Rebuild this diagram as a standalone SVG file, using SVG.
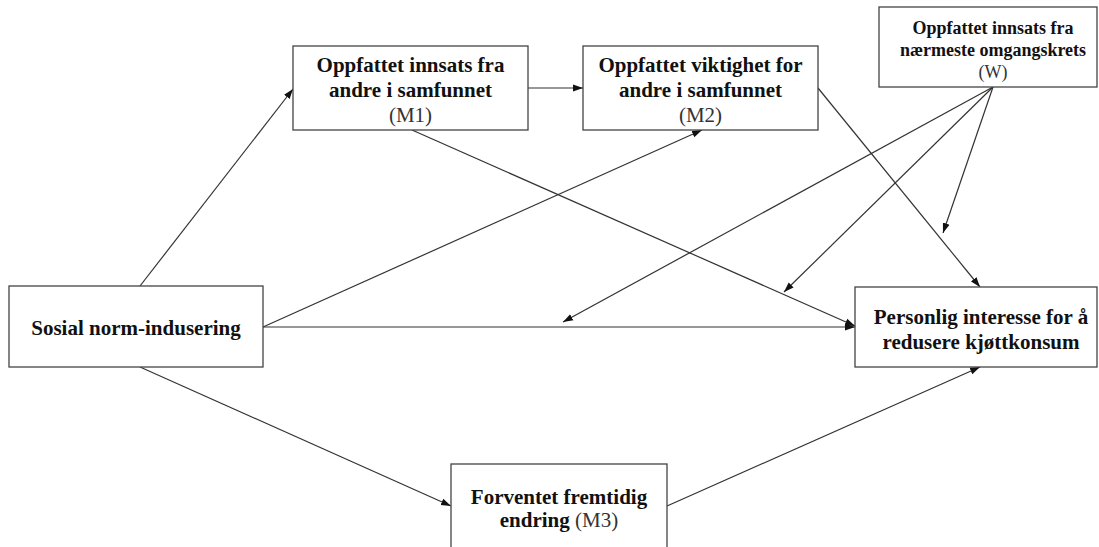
<svg xmlns="http://www.w3.org/2000/svg" width="1099" height="547" viewBox="0 0 1099 547">
<style>
.box{fill:#fff;stroke:#444;stroke-width:1.3}
.t{font-family:"Liberation Serif","Times New Roman",serif;font-size:21px;font-weight:bold;fill:#111;text-anchor:middle}
.ts{font-size:18px}
.r{font-weight:normal;fill:#333}
.c{stroke:#333;stroke-width:1.2;fill:none;marker-end:url(#ah)}
</style>
<defs>
<marker id="ah" viewBox="0 0 10 10" refX="10" refY="5" markerWidth="10" markerHeight="10" markerUnits="userSpaceOnUse" orient="auto">
<path d="M0,1.5 L10,5 L0,8.5 z" fill="#111"/>
</marker>
</defs>
<rect width="1099" height="547" fill="#fff"/>
<g id="connectors">
<line class="c" x1="140" y1="286" x2="293" y2="89"/>
<line class="c" x1="528" y1="88" x2="583" y2="88"/>
<line class="c" x1="412" y1="130" x2="855" y2="326"/>
<line class="c" x1="263" y1="327" x2="702" y2="130"/>
<line class="c" x1="263" y1="327" x2="855" y2="327"/>
<line class="c" x1="818" y1="88" x2="980" y2="287"/>
<line class="c" x1="140" y1="367" x2="451" y2="506"/>
<line class="c" x1="667" y1="506" x2="980" y2="367"/>
<line class="c" x1="993" y1="87" x2="563" y2="322"/>
<line class="c" x1="993" y1="87" x2="784" y2="292"/>
<line class="c" x1="993" y1="87" x2="943" y2="233"/>
</g>
<g id="M1">
<rect class="box" x="293" y="46" width="235" height="84"/>
<text class="t" x="410.5" y="72">Oppfattet innsats fra</text>
<text class="t" x="410.5" y="97">andre i samfunnet</text>
<text class="t r" x="410.5" y="122">(M1)</text>
</g>
<g id="M2">
<rect class="box" x="583" y="46" width="235" height="84"/>
<text class="t" x="700.5" y="72">Oppfattet viktighet for</text>
<text class="t" x="700.5" y="97">andre i samfunnet</text>
<text class="t r" x="700.5" y="122">(M2)</text>
</g>
<g id="W">
<rect class="box" x="879" y="7" width="218" height="80"/>
<text class="t ts" x="993" y="34">Oppfattet innsats fra</text>
<text class="t ts" x="993" y="56">nærmeste omgangskrets</text>
<text class="t ts r" x="993" y="78">(W)</text>
</g>
<g id="Sosial">
<rect class="box" x="9" y="286" width="254" height="81"/>
<text class="t" x="136" y="335">Sosial norm-indusering</text>
</g>
<g id="Personlig">
<rect class="box" x="855" y="287" width="242" height="80"/>
<text class="t" x="981" y="324">Personlig interesse for å</text>
<text class="t" x="981" y="349">redusere kjøttkonsum</text>
</g>
<g id="M3">
<rect class="box" x="451" y="464" width="216" height="90"/>
<text class="t" x="559" y="504">Forventet fremtidig</text>
<text class="t" x="559" y="527">endring <tspan class="r">(M3)</tspan></text>
</g>
</svg>
